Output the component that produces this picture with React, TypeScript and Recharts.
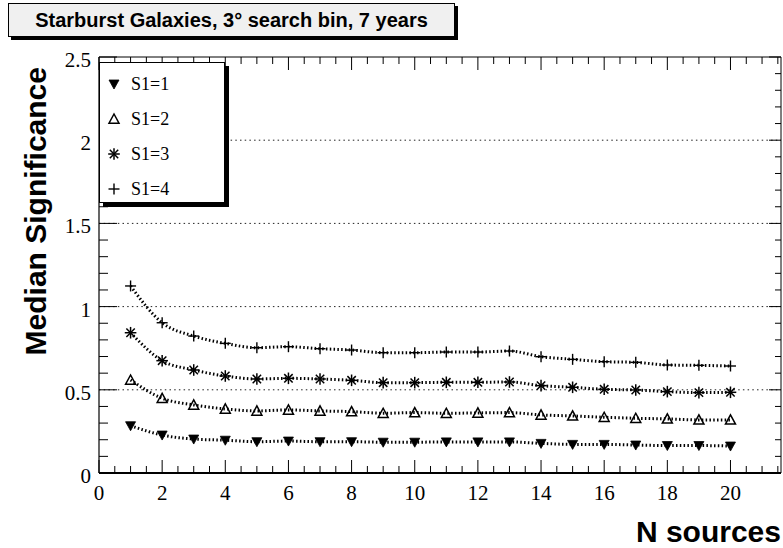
import React from 'react';
import { LineChart, Line, XAxis, YAxis, ReferenceLine } from 'recharts';

// ---------------- data ----------------
const nSources = [1, 2, 3, 4, 5, 6, 7, 8, 9, 10, 11, 12, 13, 14, 15, 16, 17, 18, 19, 20];
const s1Values = [0.284, 0.228, 0.204, 0.197, 0.188, 0.192, 0.188, 0.188, 0.185, 0.185, 0.187, 0.187, 0.187, 0.178, 0.172, 0.172, 0.168, 0.165, 0.165, 0.162];
const s2Values = [0.559, 0.449, 0.409, 0.385, 0.373, 0.379, 0.373, 0.369, 0.359, 0.363, 0.359, 0.361, 0.363, 0.349, 0.343, 0.335, 0.329, 0.325, 0.319, 0.319];
const s3Values = [0.843, 0.675, 0.619, 0.583, 0.565, 0.569, 0.565, 0.557, 0.543, 0.543, 0.545, 0.545, 0.547, 0.525, 0.515, 0.503, 0.499, 0.489, 0.483, 0.485];
const s4Values = [1.124, 0.903, 0.823, 0.779, 0.753, 0.759, 0.747, 0.739, 0.723, 0.723, 0.727, 0.727, 0.733, 0.699, 0.683, 0.669, 0.665, 0.649, 0.647, 0.643];

const seriesLabels = ['S1=1', 'S1=2', 'S1=3', 'S1=4'];
const xMajorTicks = [0, 2, 4, 6, 8, 10, 12, 14, 16, 18, 20];
const yMajorTicks = [0, 0.5, 1, 1.5, 2, 2.5];
const gridValues = [0.5, 1, 1.5, 2];
const titleText = 'Starburst Galaxies, 3\u00B0 search bin, 7 years';
const xTitle = 'N sources';
const yTitle = 'Median Significance';

const X_MAX = 21.6;
const Y_MAX = 2.5;

const data = nSources.map((n, i) => ({
  n,
  s1: s1Values[i],
  s2: s2Values[i],
  s3: s3Values[i],
  s4: s4Values[i],
}));

// minor tick positions (0.5 on x, 0.1 on y)
const xAllTicks: number[] = [];
for (let i = 0; i <= 43; i++) xAllTicks.push(i / 2);
const yAllTicks: number[] = [];
for (let i = 0; i <= 25; i++) yAllTicks.push(Math.round(i * 10) / 100);

const isXMajor = (v: number) => xMajorTicks.some((t) => Math.abs(t - v) < 1e-6);
const isYMajor = (v: number) => yMajorTicks.some((t) => Math.abs(t - v) < 1e-6);

const SERIF = '"Liberation Serif", "Times New Roman", Times, serif';
const SANS = '"Liberation Sans", Arial, Helvetica, sans-serif';

// ---------------- markers ----------------
const TriDown = ({ cx, cy }: { cx: number; cy: number }) => (
  <polygon points={`${cx - 5},${cy - 4} ${cx + 5},${cy - 4} ${cx},${cy + 5}`} fill="#000" stroke="#000" strokeWidth={0.8} />
);
const TriUp = ({ cx, cy }: { cx: number; cy: number }) => (
  <polygon points={`${cx - 5},${cy + 4.2} ${cx + 5},${cy + 4.2} ${cx},${cy - 5}`} fill="#fff" fillOpacity={0} stroke="#000" strokeWidth={1.5} />
);
const Star = ({ cx, cy }: { cx: number; cy: number }) => {
  const r = 5.8;
  const d = 4.2;
  return (
    <g stroke="#000" strokeWidth={1.5}>
      <line x1={cx - r} y1={cy} x2={cx + r} y2={cy} />
      <line x1={cx} y1={cy - r} x2={cx} y2={cy + r} />
      <line x1={cx - d} y1={cy - d} x2={cx + d} y2={cy + d} />
      <line x1={cx - d} y1={cy + d} x2={cx + d} y2={cy - d} />
    </g>
  );
};
const Plus = ({ cx, cy }: { cx: number; cy: number }) => (
  <g stroke="#000" strokeWidth={1.4}>
    <line x1={cx - 5.5} y1={cy} x2={cx + 5.5} y2={cy} />
    <line x1={cx} y1={cy - 5.5} x2={cx} y2={cy + 5.5} />
  </g>
);

const markers = [TriDown, TriUp, Star, Plus];

const makeDot = (M: any) => (props: any) => {
  const { cx, cy, index } = props;
  if (cx == null || cy == null) return <g key={`e-${index}`} />;
  return <M key={`m-${index}`} cx={cx} cy={cy} />;
};

// ---------------- ticks ----------------
const BottomTick = (props: any) => {
  const { x, y, payload } = props;
  const v = payload.value;
  const major = isXMajor(v);
  return (
    <g>
      <line x1={x} x2={x} y1={y} y2={y - (major ? 13 : 7)} stroke="#000" strokeWidth={1} />
      {major && (
        <text x={x} y={y + 27} textAnchor="middle" style={{ fontFamily: SERIF, fontSize: 21 }} fill="#000">
          {String(v)}
        </text>
      )}
    </g>
  );
};
const TopTick = (props: any) => {
  const { x, y, payload } = props;
  const major = isXMajor(payload.value);
  return <line x1={x} x2={x} y1={y} y2={y + (major ? 13 : 7)} stroke="#000" strokeWidth={1} />;
};
const LeftTick = (props: any) => {
  const { x, y, payload } = props;
  const v = payload.value;
  const major = isYMajor(v);
  return (
    <g>
      <line x1={x} x2={x + (major ? 18 : 9)} y1={y} y2={y} stroke="#000" strokeWidth={1} />
      {major && (
        <text x={x - 8} y={y + 10} textAnchor="end" style={{ fontFamily: SERIF, fontSize: 21 }} fill="#000">
          {String(v)}
        </text>
      )}
    </g>
  );
};
const RightTick = (props: any) => {
  const { x, y, payload } = props;
  const major = isYMajor(payload.value);
  return <line x1={x} x2={x - (major ? 12 : 6)} y1={y} y2={y} stroke="#000" strokeWidth={1} />;
};

const seriesKeys = ['s1', 's2', 's3', 's4'];

export default function App() {
  return (
    <div style={{ position: 'absolute', left: 0, top: 0, width: 783, height: 548, background: '#fff', overflow: 'hidden' }}>
      <LineChart width={783} height={548} data={data} margin={{ top: 56, right: 1, bottom: 74, left: 98 }}>
        <XAxis
          dataKey="n"
          type="number"
          domain={[0, X_MAX]}
          allowDataOverflow
          ticks={xAllTicks}
          interval={0}
          height={1}
          tickSize={0}
          tickMargin={0}
          tick={<BottomTick />}
          tickLine={false}
          axisLine={{ stroke: '#000', strokeWidth: 2 }}
          label={{
            content: () => (
              <text x={781} y={542} textAnchor="end" style={{ fontFamily: SANS, fontWeight: 'bold', fontSize: 30 }} fill="#000">
                {xTitle}
              </text>
            ),
          }}
        />
        <XAxis
          xAxisId="top"
          orientation="top"
          dataKey="n"
          type="number"
          domain={[0, X_MAX]}
          allowDataOverflow
          ticks={xAllTicks}
          interval={0}
          height={1}
          tickSize={0}
          tickMargin={0}
          tick={<TopTick />}
          tickLine={false}
          axisLine={{ stroke: '#000', strokeWidth: 1 }}
        />
        <YAxis
          type="number"
          domain={[0, Y_MAX]}
          allowDataOverflow
          ticks={yAllTicks}
          interval={0}
          width={1}
          tickSize={0}
          tickMargin={0}
          tick={<LeftTick />}
          tickLine={false}
          axisLine={{ stroke: '#000', strokeWidth: 1.2 }}
          label={{
            content: () => (
              <text
                x={46}
                y={67}
                transform="rotate(-90, 46, 67)"
                textAnchor="end"
                style={{ fontFamily: SANS, fontWeight: 'bold', fontSize: 30 }}
                fill="#000"
              >
                {yTitle}
              </text>
            ),
          }}
        />
        <YAxis
          yAxisId="right"
          orientation="right"
          type="number"
          domain={[0, Y_MAX]}
          allowDataOverflow
          ticks={yAllTicks}
          interval={0}
          width={1}
          tickSize={0}
          tickMargin={0}
          tick={<RightTick />}
          tickLine={false}
          axisLine={{ stroke: '#000', strokeWidth: 1 }}
        />
        {gridValues.map((v) => (
          <ReferenceLine key={`g-${v}`} y={v} stroke="#222" strokeWidth={1} strokeDasharray="1.5 3.2" />
        ))}
        {seriesKeys.map((k, i) => (
          <Line
            key={k}
            dataKey={k}
            name={seriesLabels[i]}
            type="monotone"
            stroke="#000"
            strokeWidth={3}
            strokeDasharray="1.5 2.3"
            dot={makeDot(markers[i])}
            activeDot={false}
            isAnimationActive={false}
          />
        ))}
      </LineChart>

      {/* title box */}
      <div
        style={{
          position: 'absolute',
          left: 8,
          top: 3,
          width: 447,
          height: 34,
          boxSizing: 'border-box',
          background: '#f0f0f0',
          border: '1px solid #000',
          boxShadow: '3px 3px 0 #000',
          display: 'flex',
          alignItems: 'center',
          justifyContent: 'center',
          fontFamily: SANS,
          fontWeight: 'bold',
          fontSize: 20,
          color: '#000',
          whiteSpace: 'nowrap',
        }}
      >
        {titleText}
      </div>

      {/* legend */}
      <div
        style={{
          position: 'absolute',
          left: 99,
          top: 62,
          width: 126,
          height: 141,
          boxSizing: 'border-box',
          background: '#fff',
          border: '1px solid #000',
          boxShadow: '4px 4px 0 #000',
        }}
      >
        {seriesLabels.map((lab, i) => {
          const M = markers[i];
          return (
            <div
              key={lab}
              style={{
                position: 'absolute',
                left: 0,
                top: 21 + i * 34.9 - 13,
                height: 26,
                width: 124,
              }}
            >
              <svg width={16} height={16} style={{ position: 'absolute', left: 6, top: 5 }}>
                <M cx={8} cy={8} />
              </svg>
              <span
                style={{
                  position: 'absolute',
                  left: 31,
                  top: 0,
                  fontFamily: SERIF,
                  fontSize: 18,
                  color: '#000',
                  lineHeight: '26px',
                }}
              >
                {lab}
              </span>
            </div>
          );
        })}
      </div>
    </div>
  );
}
